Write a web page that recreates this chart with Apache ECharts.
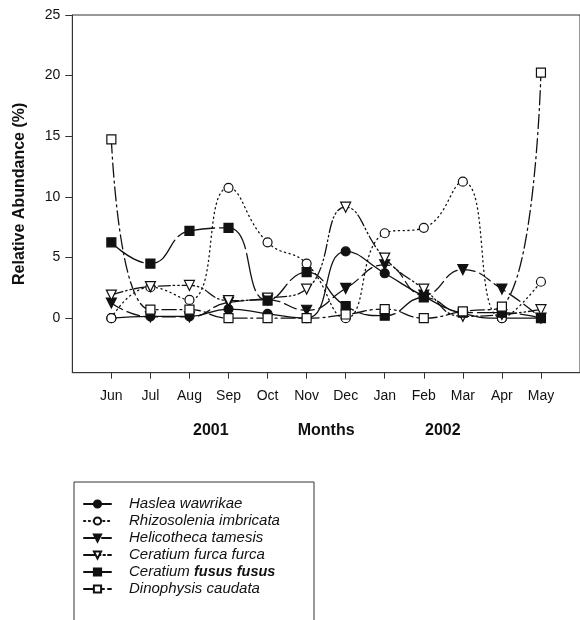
<!DOCTYPE html>
<html>
<head>
<meta charset="utf-8">
<script src="https://cdn.jsdelivr.net/npm/echarts@6/dist/echarts.min.js"></script>
<style>
  html, body { margin: 0; padding: 0; background: #fff; }
  #chart { width: 580px; height: 620px; }
</style>
</head>
<body>
<div id="chart"></div>
<script>
// Monthly relative abundance (%) of six phytoplankton taxa, Jun 2001 – May 2002
const months = ['Jun', 'Jul', 'Aug', 'Sep', 'Oct', 'Nov', 'Dec', 'Jan', 'Feb', 'Mar', 'Apr', 'May'];
const yTicks = [0, 5, 10, 15, 20, 25];

const haslea       = [0, 0.15, 0.15, 0.75, 0.35, 0, 5.5, 3.7, 1.8, 0.4, 0, 0];
const rhizosolenia = [0, 2.55, 1.5, 10.75, 6.25, 4.5, 0, 7.0, 7.45, 11.25, 0, 3.0];
const helicotheca  = [1.25, 0.1, 0.1, 1.3, 1.5, 0.65, 2.45, 4.4, 1.9, 4.0, 2.4, 0];
const furca        = [1.9, 2.6, 2.7, 1.45, 1.65, 2.4, 9.15, 4.95, 2.4, 0.15, 0.3, 0.7];
const fusus        = [6.25, 4.5, 7.2, 7.45, 1.45, 3.8, 1.0, 0.2, 1.7, 0.45, 0.45, 0];
const dinophysis   = [14.75, 0.7, 0.7, 0, 0, 0, 0.3, 0.75, 0, 0.55, 0.95, 20.25];

const INK = '#111';
const FONT = 'Liberation Sans, Arial, sans-serif';
const LEGEND_FONT = 15;

function pts(values) {
  return values.map((v, i) => [i, v]);
}

function lineSeries(name, values, symbol, filled, dash, size, rotate) {
  return {
    name: name,
    type: 'line',
    data: pts(values),
    smooth: 0.5,
    symbol: symbol,
    symbolSize: size,
    symbolRotate: rotate || 0,
    showSymbol: true,
    lineStyle: { color: INK, width: 1.3, type: dash, cap: 'round' },
    itemStyle: { color: filled ? INK : '#fff', borderColor: INK, borderWidth: 1.2 },
    emphasis: { disabled: true },
    animation: false
  };
}

const chart = echarts.init(document.getElementById('chart'), null, { renderer: 'canvas' });

chart.setOption({
  backgroundColor: '#fff',
  animation: false,
  textStyle: { fontFamily: FONT },
  grid: {
    left: 72.3, top: 15, right: -4.4, bottom: 247.3,
    show: true, borderColor: '#333', borderWidth: 1, backgroundColor: 'transparent'
  },
  xAxis: {
    type: 'value',
    min: -1, max: 12,
    splitLine: { show: false },
    axisLine: { show: true, onZero: false, lineStyle: { color: '#333', width: 1 } },
    axisTick: { show: true, inside: false, length: 6, customValues: months.map((m, i) => i), lineStyle: { color: '#333' } },
    axisLabel: {
      customValues: months.map((m, i) => i),
      formatter: v => months[Math.round(v)] || '',
      color: '#111', fontSize: 14, margin: 16, fontFamily: FONT
    },
    name: 'Months',
    nameLocation: 'middle',
    nameGap: 50,
    nameTextStyle: { fontSize: 16, fontWeight: 'bold', color: '#111', fontFamily: FONT }
  },
  yAxis: {
    type: 'value',
    min: -4.5, max: 25,
    splitLine: { show: false },
    axisLine: { show: true, onZero: false, lineStyle: { color: '#333', width: 1 } },
    axisTick: { show: true, inside: false, length: 7, customValues: yTicks, lineStyle: { color: '#333' } },
    axisLabel: { customValues: yTicks, color: '#111', fontSize: 14, margin: 12, fontFamily: FONT },
    name: 'Relative Abundance (%)',
    nameLocation: 'middle',
    nameRotate: 90,
    nameGap: 45,
    nameTextStyle: { fontSize: 16, fontWeight: 'bold', color: '#111', fontFamily: FONT }
  },
  graphic: [
    { type: 'text', left: 193, top: 423, style: { text: '2001', font: 'bold 16px ' + FONT, fill: '#111' } },
    { type: 'text', left: 425, top: 423, style: { text: '2002', font: 'bold 16px ' + FONT, fill: '#111' } },
    // legend frame, open at the bottom edge of the page
    { type: 'rect', shape: { x: 74, y: 482, width: 240, height: 160 }, style: { fill: 'none', stroke: '#333', lineWidth: 1 }, z: 10 }
  ],
  legend: {
    orient: 'vertical',
    left: 74, top: 482,
    padding: [14.5, 10, 2, 9],
    itemWidth: 27, itemHeight: 9, itemGap: 2,
    selectedMode: false,
    textStyle: {
      fontFamily: FONT, fontSize: LEGEND_FONT, fontStyle: 'italic', color: '#111',
      lineHeight: 15,
      padding: [0, 0, 0, 13],
      rich: {
        it: { fontFamily: FONT, fontSize: LEGEND_FONT, fontStyle: 'italic', color: '#111', lineHeight: 15 },
        up: { fontFamily: FONT, fontSize: LEGEND_FONT - 0.5, fontWeight: 'bold', color: '#111', lineHeight: 15 }
      }
    },
    formatter: name => name === 'Ceratium fusus fusus' ? '{it|Ceratium} {up|fusus fusus}' : name,
    data: ['Haslea wawrikae', 'Rhizosolenia imbricata', 'Helicotheca tamesis',
           'Ceratium furca furca', 'Ceratium fusus fusus', 'Dinophysis caudata']
  },
  series: [
    lineSeries('Haslea wawrikae', haslea, 'circle', true, 'solid', 9),
    lineSeries('Rhizosolenia imbricata', rhizosolenia, 'circle', false, [1.2, 3.6], 9),
    lineSeries('Helicotheca tamesis', helicotheca, 'triangle', true, [13, 5], 10, 180),
    lineSeries('Ceratium furca furca', furca, 'triangle', false, [12, 3, 1.5, 3, 1.5, 3], 10, 180),
    lineSeries('Ceratium fusus fusus', fusus, 'rect', true, [38, 5], 9),
    lineSeries('Dinophysis caudata', dinophysis, 'rect', false, [14, 4, 2, 4], 9)
  ]
});
</script>
</body>
</html>
